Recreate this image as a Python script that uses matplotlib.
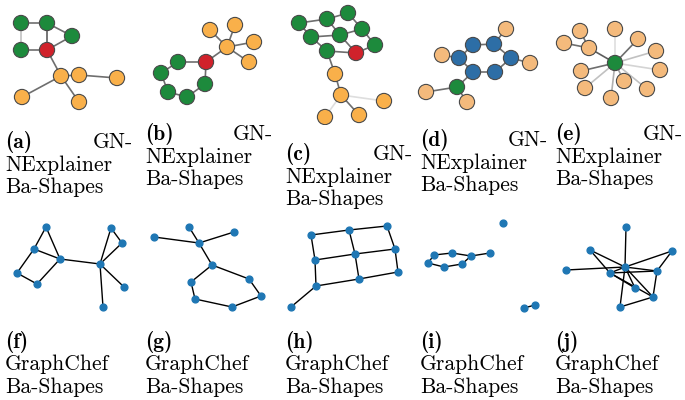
import matplotlib
matplotlib.use("Agg")
import matplotlib.pyplot as plt
import numpy as np

# explanation subgraphs, node layouts in panel-local units
GREEN, RED, ORANGE = "#1d8a3c", "#d0222b", "#f9b04a"
PEACH, BLUE = "#f4ba7c", "#2d6ea6"

a_pos = [(21, 23), (47, 23), (72, 36), (21, 50), (47, 50),
         (61, 76), (79, 75), (117, 78), (22, 97), (79, 102)]
a_col = [GREEN, GREEN, GREEN, GREEN, RED, ORANGE, ORANGE, ORANGE, ORANGE, ORANGE]
a_edges = [(0, 1), (0, 3), (1, 2), (1, 4), (2, 4), (3, 4), (4, 5), (5, 6), (6, 7), (5, 8), (5, 9)]
a_w = [0.8, 0.3, 0.8, 0.9, 0.8, 0.8, 0.8, 0.8, 0.8, 0.8, 0.8]

b_pos = [(70, 30), (95, 25), (114, 42), (87, 47), (109, 62), (66, 62),
         (38, 62), (21, 73), (28, 92), (47, 97), (65, 84)]
b_col = [ORANGE] * 5 + [RED] + [GREEN] * 5
b_edges = [(3, 0), (3, 1), (3, 2), (3, 4), (3, 5), (5, 6), (6, 7), (7, 8), (8, 9), (9, 10), (10, 5)]
b_w = [0.8] * 11

c_pos = [(19, 23), (47, 19), (68, 13), (82, 29), (31, 37), (60, 35), (95, 45),
         (47, 51), (76, 53), (55, 74), (61, 95), (104, 101), (45, 117), (79, 115)]
c_col = [GREEN] * 8 + [RED] + [ORANGE] * 5
c_edges = [(0, 1), (1, 2), (2, 3), (0, 4), (1, 5), (4, 5), (5, 3), (3, 6), (4, 7),
           (7, 8), (5, 8), (6, 8), (7, 9), (9, 10), (10, 11), (10, 12), (10, 13)]
c_w = [0.8] * 14 + [0.12, 0.12, 0.8]

d_pos = [(91, 29), (58, 45), (79, 44), (27, 55), (44, 58), (96, 58),
         (115, 63), (58, 72), (80, 72), (42, 87), (11, 92), (52, 102)]
d_col = [PEACH, BLUE, BLUE, PEACH, BLUE, BLUE, PEACH, BLUE, BLUE, GREEN, PEACH, PEACH]
d_edges = [(1, 2), (2, 0), (2, 5), (1, 4), (4, 3), (4, 7), (7, 8), (8, 5), (5, 6),
           (7, 9), (9, 10), (9, 11)]
d_w = [0.8] * 12

e_pos = [(65, 63), (30, 31), (65, 29), (88, 39), (14, 43), (39, 48), (106, 51),
         (31, 71), (110, 70), (74, 81), (35, 88), (97, 89), (61, 98)]
e_col = [GREEN] + [PEACH] * 12
e_edges = [(0, 2), (0, 3), (0, 5), (0, 6), (0, 7), (0, 8), (0, 9), (0, 10),
           (0, 11), (0, 12), (5, 1), (5, 4)]
e_w = [0.12, 0.8, 0.9, 0.3, 0.8, 0.18, 0.5, 0.3, 0.3, 0.4, 0.8, 0.8]

# GraphChef explanations
f_pos = [(46, 17), (34, 39), (60, 49), (17, 63), (37, 74), (111, 18), (122, 33),
         (100, 54), (124, 77), (103, 97)]
f_edges = [(0, 1), (0, 2), (1, 2), (1, 3), (3, 4), (4, 2), (2, 7), (7, 5), (5, 6),
           (6, 7), (7, 8), (7, 9)]

g_pos = [(14, 27), (49, 17), (59, 33), (94, 22), (72, 55), (51, 72), (109, 69),
         (55, 89), (121, 86), (92, 97)]
g_edges = [(0, 2), (1, 2), (3, 2), (2, 4), (4, 5), (4, 6), (5, 7), (7, 9), (9, 8), (8, 6)]

h_pos = [(31, 25), (69, 20), (107, 16), (35, 50), (75, 44), (115, 39), (36, 76),
         (79, 69), (118, 62), (11, 97)]
h_edges = [(0, 1), (1, 2), (0, 3), (1, 4), (2, 5), (3, 4), (4, 5), (3, 6), (4, 7),
           (5, 8), (6, 7), (7, 8), (6, 9)]

i_pos = [(88, 13), (19, 45), (37, 43), (56, 46), (75, 43), (13, 53), (29, 57),
         (47, 54), (109, 98), (120, 95)]
i_edges = [(1, 2), (2, 3), (3, 4), (1, 5), (5, 6), (6, 7), (7, 3), (8, 9)]

j_pos = [(76, 17), (40, 40), (122, 41), (16, 60), (75, 57), (60, 63), (107, 61),
         (85, 78), (103, 87), (70, 97)]
j_edges = [(0, 4), (1, 4), (1, 5), (2, 4), (2, 6), (3, 4), (4, 5), (4, 6), (5, 6),
           (4, 7), (4, 8), (5, 8), (5, 7), (4, 9), (9, 8), (6, 8)]

top_titles = ["(a)", "(b)", "(c)", "(d)", "(e)"]
bot_titles = ["(f)", "(g)", "(h)", "(i)", "(j)"]
top_y = [142, 134, 154, 140, 134]
bot_y = 342
col_left = [0, 140, 280, 415, 550]

W, H = 685, 400
fig = plt.figure(figsize=(W / 100, H / 100), dpi=100)


def panel(left, top, w, h):
    ax = fig.add_axes([left / W, 1 - (top + h) / H, w / W, h / H])
    ax.set_xlim(0, w)
    ax.set_ylim(h, 0)
    ax.axis("off")
    return ax


def draw_gnn(ax, pos, cols, edges, weights):
    p = np.array(pos, dtype=float)
    for (u, v), wgt in zip(edges, weights):
        g = 0.3 + (1 - wgt) * 0.65
        ax.plot(p[[u, v], 0], p[[u, v], 1], color=(g, g, g), lw=1.2, zorder=1)
    ax.scatter(p[:, 0], p[:, 1], s=120, c=cols, edgecolors="#4a4a4a",
               linewidths=0.8, zorder=2)


def draw_chef(ax, pos, edges):
    p = np.array(pos, dtype=float)
    for u, v in edges:
        ax.plot(p[[u, v], 0], p[[u, v], 1], color="black", lw=1.0, zorder=1)
    ax.scatter(p[:, 0], p[:, 1], s=24, c="#1f77b4", zorder=2)


gnn = [(a_pos, a_col, a_edges, a_w), (b_pos, b_col, b_edges, b_w),
       (c_pos, c_col, c_edges, c_w), (d_pos, d_col, d_edges, d_w),
       (e_pos, e_col, e_edges, e_w)]
chef = [(f_pos, f_edges), (g_pos, g_edges), (h_pos, h_edges),
        (i_pos, i_edges), (j_pos, j_edges)]

for k, left in enumerate(col_left):
    ax = panel(left, 0, 135, 125)
    draw_gnn(ax, *gnn[k])
    ax2 = panel(left, 210, 135, 110)
    draw_chef(ax2, *chef[k])

rm = dict(family="cmr10", fontsize=15.5, va="center")
bf = dict(family="cmb10", fontsize=15.5, va="center")


def put(x, y, s, style, ha="left"):
    fig.text(x / W, 1 - y / H, s, ha=ha, **style)


for k, left in enumerate(col_left):
    y0 = top_y[k]
    put(left + 5, y0, top_titles[k], bf)
    put(left + 133, y0, "GN-", rm, ha="right")
    put(left + 5, y0 + 23, "NExplainer", rm)
    put(left + 5, y0 + 45, "Ba-Shapes", rm)

    put(left + 5, bot_y, bot_titles[k], bf)
    put(left + 5, bot_y + 22, "GraphChef", rm)
    put(left + 5, bot_y + 45, "Ba-Shapes", rm)

fig.savefig("out.png", dpi=100)
